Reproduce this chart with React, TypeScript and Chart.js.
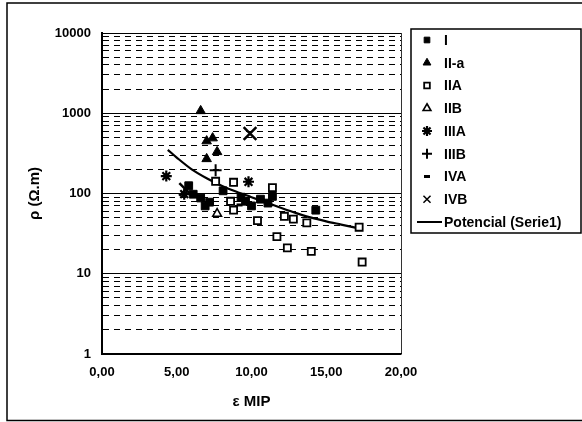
import React, { useEffect, useRef } from 'react';
import { Chart, registerables } from 'chart.js';
import { drawPoint } from 'chart.js/helpers';

Chart.register(...registerables);

// ---- data ----
const I_X = [5.8, 6.1, 6.6, 6.9, 7.2, 8.1, 9.3, 9.6, 10.0, 10.6, 11.1, 11.4, 14.3];
const I_Y = [125, 98, 88, 70, 78, 108, 90, 80, 70, 85, 76, 92, 62];

const IIa_X = [6.6, 7.0, 7.4, 7.0, 7.7];
const IIa_Y = [1070, 450, 490, 270, 330];

const IIA_X = [7.6, 8.8, 11.4, 8.6, 8.8, 10.4, 12.2, 12.8, 11.7, 12.4, 14.0, 13.7, 17.2, 17.4];
const IIA_Y = [142, 138, 118, 80, 62, 46, 52, 48, 29, 21, 19, 43, 38, 14];

const IIB_X = [7.7];
const IIB_Y = [56];

const IIIA_X = [4.3, 9.8, 5.5];
const IIIA_Y = [165, 140, 98];

const IIIB_X = [7.6];
const IIIB_Y = [195];

const IVA_X = [9.2];
const IVA_Y = [72];

const IVB_X = [9.9, 5.6];
const IVB_Y = [560, 112];

const TREND_X = [4.4, 5.0, 6.0, 7.0, 8.0, 9.0, 10.0, 11.0, 12.0, 13.0, 14.0, 15.0, 16.0, 17.1];
const TREND_Y = [350, 280, 200, 155, 125, 105, 90, 77, 66, 57, 50, 45, 41, 37];

const SERIES_NAMES = ['I', 'II-a', 'IIA', 'IIB', 'IIIA', 'IIIB', 'IVA', 'IVB', 'Potencial (Serie1)'];

const X_TICKS = [0, 5, 10, 15, 20];
const Y_MAJOR = [1, 10, 100, 1000, 10000];
const Y_MINOR_STEPS = [2, 3, 4, 5, 6, 7, 8, 9];

const X_TITLE = 'ε MIP';
const Y_TITLE = 'ρ (Ω.m)';

const FONT = '"Liberation Sans", Arial, sans-serif';

const pts = (xs: number[], ys: number[]) => xs.map((x, i) => ({ x, y: ys[i] }));

const yTickValues = (): number[] => {
  const out: number[] = [];
  for (let d = 0; d < Y_MAJOR.length - 1; d++) {
    out.push(Y_MAJOR[d]);
    Y_MINOR_STEPS.forEach((s) => out.push(Y_MAJOR[d] * s));
  }
  out.push(Y_MAJOR[Y_MAJOR.length - 1]);
  return out;
};

const fmtX = (v: number) => v.toFixed(2).replace('.', ',');

const framePlugin = {
  id: 'frameAndLegend',
  beforeDraw(chart: any) {
    const ctx = chart.ctx;
    ctx.save();
    ctx.fillStyle = '#fff';
    ctx.fillRect(0, 0, chart.width, chart.height);
    ctx.strokeStyle = '#000';
    ctx.lineWidth = 1.5;
    ctx.beginPath();
    ctx.moveTo(582, 3);
    ctx.lineTo(7, 3);
    ctx.lineTo(7, 420.5);
    ctx.lineTo(582, 420.5);
    ctx.stroke();
    ctx.restore();
  },
  afterDraw(chart: any) {
    const ctx = chart.ctx;
    const area = chart.chartArea;
    const L = area.right + 10;
    const T = area.top - 4;
    const R = 581;
    const B = 233;
    ctx.save();
    ctx.strokeStyle = '#000';
    ctx.lineWidth = 1.5;
    ctx.strokeRect(L, T, R - L, B - T);
    const rowH = 22.75;
    chart.data.datasets.forEach((ds: any, i: number) => {
      const y = T + 11 + i * rowH;
      const mx = L + 16;
      if (ds.showLine) {
        ctx.strokeStyle = '#000';
        ctx.lineWidth = 2;
        ctx.beginPath();
        ctx.moveTo(L + 6, y);
        ctx.lineTo(L + 31, y);
        ctx.stroke();
      } else {
        ctx.fillStyle = ds.backgroundColor;
        ctx.strokeStyle = ds.borderColor;
        ctx.lineWidth = ds.legendBorder;
        drawPoint(ctx, { pointStyle: ds.pointStyle, radius: ds.legendRadius, rotation: 0, borderWidth: ds.legendBorder } as any, mx, y);
      }
      ctx.fillStyle = '#000';
      ctx.font = 'bold 14px ' + FONT;
      ctx.textBaseline = 'middle';
      ctx.textAlign = 'left';
      ctx.fillText(ds.label, L + 33, y + 1);
    });
    ctx.restore();
  },
};

export default function App() {
  const ref = useRef<HTMLCanvasElement | null>(null);

  useEffect(() => {
    if (!ref.current) return;
    const mk = (label: string, data: any[], style: string, radius: number, fill: string, bw: number, lr: number, lbw: number) => ({
      label,
      data,
      pointStyle: style,
      pointRadius: radius,
      pointBackgroundColor: fill,
      pointBorderColor: '#000',
      pointBorderWidth: bw,
      backgroundColor: fill,
      borderColor: '#000',
      showLine: false,
      legendRadius: lr,
      legendBorder: lbw,
    });
    const datasets: any[] = [
      mk(SERIES_NAMES[0], pts(I_X, I_Y), 'rect', 5.5, '#000', 1, 4, 1),
      mk(SERIES_NAMES[1], pts(IIa_X, IIa_Y), 'triangle', 5.5, '#000', 1, 4.5, 1),
      mk(SERIES_NAMES[2], pts(IIA_X, IIA_Y), 'rect', 5, '#fff', 1.8, 4, 1.8),
      mk(SERIES_NAMES[3], pts(IIB_X, IIB_Y), 'triangle', 5, '#fff', 1.6, 4.5, 1.6),
      mk(SERIES_NAMES[4], pts(IIIA_X, IIIA_Y), 'star', 5.5, '#000', 2.2, 5, 2.2),
      mk(SERIES_NAMES[5], pts(IIIB_X, IIIB_Y), 'cross', 6, '#000', 2, 5, 2),
      mk(SERIES_NAMES[6], pts(IVA_X, IVA_Y), 'line', 3, '#000', 3, 3, 3),
      mk(SERIES_NAMES[7], pts(IVB_X, IVB_Y), 'crossRot', 9, '#000', 2.5, 5, 1.5),
      {
        label: SERIES_NAMES[8],
        data: pts(TREND_X, TREND_Y),
        showLine: true,
        pointRadius: 0,
        borderColor: '#000',
        backgroundColor: '#000',
        borderWidth: 2.2,
        tension: 0.3,
      },
    ];

    const tickFont = { family: FONT, size: 13, weight: 'bold' as const };
    const titleFont = { family: FONT, size: 15, weight: 'bold' as const };

    const chart = new Chart(ref.current, {
      type: 'scatter',
      data: { datasets },
      plugins: [framePlugin],
      options: {
        responsive: false,
        animation: false,
        devicePixelRatio: 1,
        layout: { padding: { top: 33, right: 181, left: 0, bottom: 0 } },
        plugins: {
          legend: { display: false },
          tooltip: { enabled: false },
        },
        scales: {
          x: {
            type: 'linear',
            min: 0,
            max: 20,
            afterBuildTicks: (s: any) => {
              s.ticks = X_TICKS.map((v) => ({ value: v }));
            },
            afterFit: (s: any) => {
              s.height = 68;
            },
            ticks: {
              padding: 11,
              autoSkip: false,
              maxRotation: 0,
              color: '#000',
              font: tickFont,
              callback: (v: any) => fmtX(Number(v)),
            },
            grid: {
              drawTicks: false,
              lineWidth: 1,
              color: (c: any) => (c.tick && c.tick.value === 20 ? '#333' : 'rgba(0,0,0,0)'),
            },
            border: { color: '#000', width: 1.5 },
            title: {
              display: true,
              text: X_TITLE,
              color: '#000',
              font: titleFont,
              padding: { top: 0, bottom: 11 },
            },
          },
          y: {
            type: 'logarithmic',
            min: 1,
            max: 10000,
            afterBuildTicks: (s: any) => {
              s.ticks = yTickValues().map((v) => ({ value: v, major: false }));
            },
            afterFit: (s: any) => {
              s.width = 102;
            },
            ticks: {
              padding: 11,
              autoSkip: false,
              color: '#000',
              font: tickFont,
              callback: (v: any) => (Y_MAJOR.includes(Number(v)) ? String(v) : ''),
            },
            grid: {
              drawTicks: false,
              lineWidth: 1,
              color: '#000',
            },
            border: {
              color: '#000',
              width: 2,
              dash: (c: any) => (c && c.tick && !Y_MAJOR.includes(c.tick.value) ? [6, 5] : []),
            } as any,
            title: {
              display: true,
              text: Y_TITLE,
              color: '#000',
              font: titleFont,
              padding: { top: 26, bottom: 0 },
            },
          },
        },
      } as any,
    });
    return () => chart.destroy();
  }, []);

  return (
    <div style={{ position: 'absolute', left: 0, top: 0, width: 582, height: 422, background: '#fff' }}>
      <canvas ref={ref} width={582} height={422} style={{ display: 'block' }} />
    </div>
  );
}
